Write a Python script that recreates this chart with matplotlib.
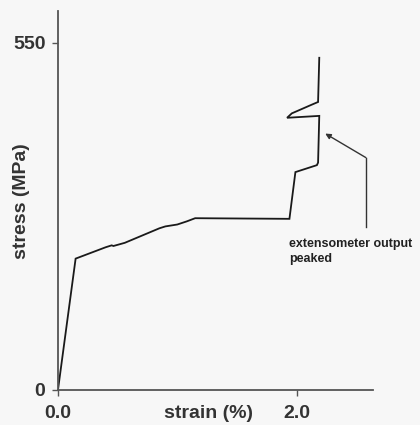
import matplotlib
matplotlib.use("Agg")
import matplotlib.pyplot as plt

strain = [0.0, 0.148, 0.40, 0.45, 0.465, 0.56, 0.85, 0.90, 1.0, 1.08, 1.15, 1.93, 1.94, 1.99, 2.17, 2.18, 2.19, 1.92, 1.96, 2.13, 2.18, 2.19]
stress = [0.0, 208, 226, 229, 228, 233, 256, 259, 262, 267, 272, 271, 271, 345, 356, 360, 434, 431, 438, 452, 456, 526]

xticks = [0.0, 2.0]
xticklabels = ["0.0", "2.0"]
yticks = [0, 550]
yticklabels = ["0", "550"]

note_text = "extensometer output\npeaked"
note_path_x = [2.58, 2.58]
note_path_y = [258, 368]
note_tip = (2.24, 406)

FONT = "Liberation Sans"

fig = plt.figure(figsize=(4.2, 4.25), dpi=100)
fig.patch.set_facecolor("#f7f7f7")
ax = fig.add_axes([0.138, 0.0824, 0.75, 0.8916])
ax.set_facecolor("#f7f7f7")

ax.plot(strain, stress, color="#1a1a1a", lw=1.3, solid_joinstyle="miter")

# annotation leader line and arrow
ax.plot(note_path_x, note_path_y, color="#333333", lw=1.0)
ax.annotate("", xy=note_tip, xytext=(note_path_x[1], note_path_y[1]),
            arrowprops=dict(arrowstyle="-|>", color="#333333", lw=1.0,
                            mutation_scale=8, shrinkA=0, shrinkB=0))
ax.text(1.94, 240, note_text, fontsize=9, fontweight="bold",
        family=FONT, color="#222222", va="top", ha="left",
        linespacing=1.25)

ax.set_xlim(0, 2.64)
ax.set_ylim(0, 600)
for s in ["top", "right"]:
    ax.spines[s].set_visible(False)
for s in ["left", "bottom"]:
    ax.spines[s].set_color("#555555")
    ax.spines[s].set_linewidth(1.3)

ax.set_xticks(xticks)
ax.set_xticklabels(xticklabels)
ax.set_yticks(yticks)
ax.set_yticklabels(yticklabels)
ax.tick_params(axis="both", direction="out", length=4, width=1.0, color="#555555",
               labelsize=14)
ax.tick_params(axis="x", pad=7)
ax.tick_params(axis="y", pad=5)
for lab in ax.get_xticklabels() + ax.get_yticklabels():
    lab.set_fontfamily(FONT)
    lab.set_fontweight("bold")
    lab.set_color("#333333")

fig.text(208 / 420, 1 - 414 / 425, "strain (%)", fontsize=14, fontweight="bold",
         family=FONT, color="#333333", ha="center", va="center")
fig.text(22 / 420, 1 - 201 / 425, "stress (MPa)", fontsize=14, fontweight="bold",
         family=FONT, color="#333333", ha="center", va="center", rotation=90)

fig.savefig("out.png", dpi=100, facecolor=fig.get_facecolor())
